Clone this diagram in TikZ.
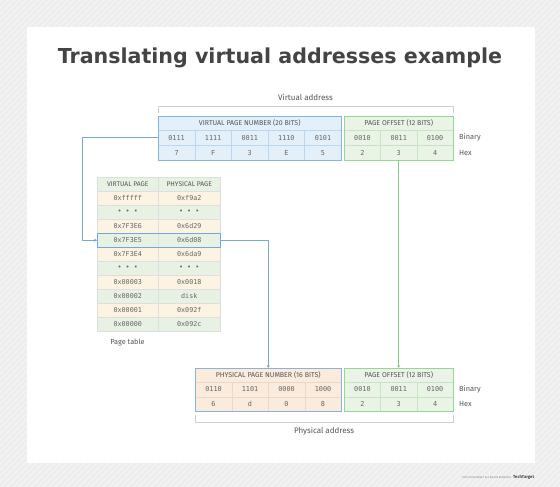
\documentclass[tikz,border=0pt]{standalone}
\usepackage{fontspec}
\setmainfont{Fira Sans}
\newfontfamily\monof{DejaVu Sans Mono}
\newfontfamily\titlef{DejaVu Sans}
\usetikzlibrary{arrows.meta,calc}
\definecolor{bgc}{HTML}{F1F1F1}
\definecolor{hatchc}{HTML}{E6E6E6}
\definecolor{txt}{HTML}{555555}
\definecolor{numtxt}{HTML}{666666}
\definecolor{titlec}{HTML}{444444}
\definecolor{bluebdc}{HTML}{86B4E0}
\definecolor{bluefill}{HTML}{E3F0FA}
\definecolor{blueline}{HTML}{BCD6EE}
\definecolor{greenbdc}{HTML}{98D698}
\definecolor{greenfill}{HTML}{E9F4E7}
\definecolor{greenline}{HTML}{C8E4C4}
\definecolor{peachfill}{HTML}{FBEBDD}
\definecolor{peachline}{HTML}{EAD8C8}
\definecolor{creamrow}{HTML}{FDF3E2}
\definecolor{greenrow}{HTML}{E7F1E4}
\definecolor{tabline}{HTML}{DEDEDE}
\definecolor{brkc}{HTML}{CFCFCF}
\definecolor{barrc}{HTML}{72A8DA}
\definecolor{garrc}{HTML}{7FCF7F}
\tikzset{
  boxfill/.style={inner sep=0, anchor=north west, draw=none},
  hdrcell/.style={inner sep=0, anchor=north west, line width=0.5pt, text=txt, font=\fontsize{7}{8}\selectfont},
  numcell/.style={inner sep=0, anchor=north west, line width=0.5pt, text=numtxt, font=\monof\fontsize{6.8}{8}\selectfont},
  bluebd/.style={draw=bluebdc, line width=0.9pt},
  greenbd/.style={draw=greenbdc, line width=0.9pt},
  lbl/.style={inner sep=0, text=txt, font=\fontsize{8}{9}\selectfont},
  sidelbl/.style={inner sep=0, anchor=west, text=txt, font=\fontsize{7.4}{9}\selectfont},
  brk/.style={draw=brkc, line width=0.8pt},
  barr/.style={draw=barrc, line width=0.8pt, -{Stealth[length=3pt,width=3pt]}},
  garr/.style={draw=garrc, line width=0.8pt, -{Stealth[length=3pt,width=3pt]}},
}
\begin{document}
\begin{tikzpicture}[x=1pt,y=-1pt]
\useasboundingbox (0,0) rectangle (560,487);
\fill[bgc] (0,0) rectangle (560,487);
\begin{scope}
\clip (0,0) rectangle (560,487);
\foreach \i in {-500,-494,...,560} \draw[hatchc, line width=0.4pt] (\i,487) -- (\i+487,0);
\end{scope}
\fill[white] (27,27) rectangle (535,463);

% title
\node[inner sep=0, anchor=base, text=titlec, font=\titlef\bfseries\fontsize{20.6}{24}\selectfont] (title) at (280,64) {Translating virtual addresses example};

% ---------- virtual address ----------
\node[lbl] (valbl) at (305.5,97) {Virtual address};
\coordinate (vb0) at (158,113);
\coordinate (vb9) at (453,113);
\draw[brk] (vb0) -- ++(0,-7) -| (vb9);

\node[boxfill, fill=bluefill, minimum width=183, minimum height=44] (vpn) at (158,116) {};
\node[hdrcell, draw=blueline, minimum width=183, minimum height=14] (vpnh) at (158,116) {VIRTUAL PAGE NUMBER (20 BITS)};
\foreach \b/\h [count=\i] in {0111/7,1111/F,0011/3,1110/E,0101/5}{
  \node[numcell, draw=blueline, minimum width=36.6, minimum height=15] (vb\i) at ({158+36.6*(\i-1)},130) {\b};
  \node[numcell, draw=blueline, minimum width=36.6, minimum height=15] (vh\i) at ({158+36.6*(\i-1)},145) {\h};
}
\draw[bluebd] (vpn.north west) rectangle (vpn.south east);

\node[boxfill, fill=greenfill, minimum width=109, minimum height=44] (vpo) at (344,116) {};
\node[hdrcell, draw=greenline, minimum width=109, minimum height=14] (vpoh) at (344,116) {PAGE OFFSET (12 BITS)};
\foreach \b/\h [count=\i] in {0010/2,0011/3,0100/4}{
  \node[numcell, draw=greenline, minimum width=36.33, minimum height=15] (vob\i) at ({344+36.33*(\i-1)},130) {\b};
  \node[numcell, draw=greenline, minimum width=36.33, minimum height=15] (voh\i) at ({344+36.33*(\i-1)},145) {\h};
}
\draw[greenbd] (vpo.north west) rectangle (vpo.south east);
\node[sidelbl] (vbin) at (459,137.5) {Binary};
\node[sidelbl] (vhex) at (459,152.5) {Hex};

% ---------- page table ----------
\node[hdrcell, fill=greenrow, draw=tabline, minimum width=61, minimum height=14, font=\fontsize{6.7}{7}\selectfont] (pvh) at (97,177) {VIRTUAL PAGE};
\node[hdrcell, fill=greenrow, draw=tabline, minimum width=62, minimum height=14, font=\fontsize{6.7}{7}\selectfont] (pph) at (158,177) {PHYSICAL PAGE};
\foreach \v/\p/\c [count=\i] in {0xfffff/0xf9a2/creamrow,{•~•~•}/{•~•~•}/greenrow,0x7F3E6/0x6d29/creamrow,0x7F3E5/0x6d08/greenrow,0x7F3E4/0x6da9/creamrow,{•~•~•}/{•~•~•}/greenrow,0x00003/0x0018/creamrow,0x00002/disk/greenrow,0x00001/0x092f/creamrow,0x00000/0x092c/greenrow}{
  \node[numcell, fill=\c, draw=tabline, minimum width=61, minimum height=14, font=\monof\fontsize{6.7}{8}\selectfont] (pv\i) at (97,{191+14*(\i-1)}) {\v};
  \node[numcell, fill=\c, draw=tabline, minimum width=62, minimum height=14, font=\monof\fontsize{6.7}{8}\selectfont] (pp\i) at (158,{191+14*(\i-1)}) {\p};
}
\draw[draw=barrc, line width=0.9pt] (pv4.north west) rectangle (pp4.south east);
\node[lbl, font=\fontsize{7.3}{9}\selectfont] (ptlbl) at (127.5,343) {Page table};

% ---------- physical address ----------
\node[boxfill, fill=peachfill, minimum width=146, minimum height=43] (ppn) at (195,368) {};
\node[hdrcell, draw=peachline, minimum width=146, minimum height=14] (ppnh) at (195,368) {PHYSICAL PAGE NUMBER (16 BITS)};
\foreach \b/\h [count=\i] in {0110/6,1101/d,0000/0,1000/8}{
  \node[numcell, draw=peachline, minimum width=36.5, minimum height=14.5] (nb\i) at ({195+36.5*(\i-1)},382) {\b};
  \node[numcell, draw=peachline, minimum width=36.5, minimum height=14.5] (nh\i) at ({195+36.5*(\i-1)},396.5) {\h};
}
\draw[bluebd] (ppn.north west) rectangle (ppn.south east);

\node[boxfill, fill=greenfill, minimum width=109, minimum height=43] (ppo) at (344,368) {};
\node[hdrcell, draw=greenline, minimum width=109, minimum height=14] (ppoh) at (344,368) {PAGE OFFSET (12 BITS)};
\foreach \b/\h [count=\i] in {0010/2,0011/3,0100/4}{
  \node[numcell, draw=greenline, minimum width=36.33, minimum height=14.5] (pob\i) at ({344+36.33*(\i-1)},382) {\b};
  \node[numcell, draw=greenline, minimum width=36.33, minimum height=14.5] (poh\i) at ({344+36.33*(\i-1)},396.5) {\h};
}
\draw[greenbd] (ppo.north west) rectangle (ppo.south east);
\node[sidelbl] (pbin) at (459,389.5) {Binary};
\node[sidelbl] (phex) at (459,403.5) {Hex};

\coordinate (pb0) at (195,415);
\coordinate (pb9) at (453,415);
\draw[brk] (pb0) -- ++(0,7) -| (pb9);
\node[lbl] (palbl) at (324,431) {Physical address};

% ---------- connectors ----------
\draw[barr] (vb1.west) -- ++(-76,0) |- (pv4.west);
\draw[barr] (pp4.east) -| (ppn.north);
\draw[garr] (vpo.south) -- (ppo.north);

% footer
\node[inner sep=0, anchor=east, text=gray, font=\fontsize{2.6}{3}\selectfont] (copy) at (511,477.5) {©2021 TECHTARGET. ALL RIGHTS RESERVED};
\node[inner sep=0, anchor=west, text=titlec, font=\bfseries\fontsize{4.2}{5}\selectfont] (logo) at (513,477.5) {TechTarget};
\end{tikzpicture}
\end{document}
